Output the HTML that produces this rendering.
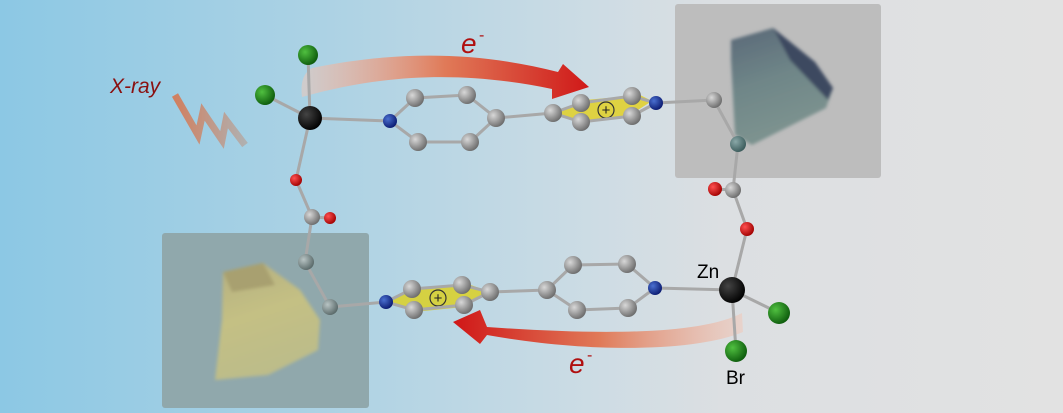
<!DOCTYPE html>
<html><head><meta charset="utf-8"><style>html,body{margin:0;padding:0;}svg{display:block}</style></head>
<body>
<svg width="1063" height="413" viewBox="0 0 1063 413" xmlns="http://www.w3.org/2000/svg">
<defs>
<linearGradient id="bg" x1="0" x2="1" y1="0" y2="0">
<stop offset="0" stop-color="#8cc8e4"/><stop offset="0.33" stop-color="#afd3e4"/>
<stop offset="0.56" stop-color="#cddce4"/><stop offset="0.68" stop-color="#dcdfe2"/><stop offset="1" stop-color="#e2e2e2"/>
</linearGradient>
<linearGradient id="a1" x1="300" x2="590" y1="0" y2="0" gradientUnits="userSpaceOnUse">
<stop offset="0" stop-color="#f2c8b8" stop-opacity="0.5"/><stop offset="0.5" stop-color="#e07a58"/><stop offset="1" stop-color="#d01818"/>
</linearGradient>
<linearGradient id="a2" x1="745" x2="455" y1="0" y2="0" gradientUnits="userSpaceOnUse">
<stop offset="0" stop-color="#f2c8b8" stop-opacity="0.5"/><stop offset="0.5" stop-color="#e07a58"/><stop offset="1" stop-color="#d01818"/>
</linearGradient>
<linearGradient id="zz" x1="0" x2="1"><stop offset="0" stop-color="#d08060"/><stop offset="1" stop-color="#b0b0b0"/></linearGradient>
<linearGradient id="tc" x1="0" y1="0" x2="0.3" y2="1"><stop offset="0" stop-color="#5a6878"/><stop offset="0.5" stop-color="#6f8688"/><stop offset="1" stop-color="#7e9490"/></linearGradient>
<linearGradient id="bc" x1="0" y1="0" x2="0.3" y2="1"><stop offset="0" stop-color="#b4ae80"/><stop offset="0.5" stop-color="#c4c084"/><stop offset="1" stop-color="#bcbc8a"/></linearGradient>
<filter id="bl" x="-20%" y="-20%" width="140%" height="140%"><feGaussianBlur stdDeviation="1.5"/></filter>
<radialGradient id="gC" cx="0.35" cy="0.35" r="0.7"><stop offset="0" stop-color="#d8d8d8"/><stop offset="1" stop-color="#6a6a6a"/></radialGradient>
<radialGradient id="gN" cx="0.35" cy="0.35" r="0.7"><stop offset="0" stop-color="#4a70d0"/><stop offset="1" stop-color="#0a1a70"/></radialGradient>
<radialGradient id="gO" cx="0.35" cy="0.35" r="0.7"><stop offset="0" stop-color="#ff5050"/><stop offset="1" stop-color="#a00000"/></radialGradient>
<radialGradient id="gG" cx="0.35" cy="0.35" r="0.7"><stop offset="0" stop-color="#50c040"/><stop offset="1" stop-color="#0c5a0c"/></radialGradient>
<radialGradient id="gZ" cx="0.35" cy="0.35" r="0.7"><stop offset="0" stop-color="#444"/><stop offset="1" stop-color="#000"/></radialGradient>
<radialGradient id="gT" cx="0.35" cy="0.35" r="0.7"><stop offset="0" stop-color="#8aa8a8"/><stop offset="1" stop-color="#3a5a5a"/></radialGradient>
<radialGradient id="gB" cx="0.35" cy="0.35" r="0.7"><stop offset="0" stop-color="#b8c4c4"/><stop offset="1" stop-color="#586868"/></radialGradient>
</defs>
<rect width="1063" height="413" fill="url(#bg)"/>
<!-- photos -->
<rect x="675" y="4" width="206" height="174" rx="3" fill="#bdbdbd"/>
<g filter="url(#bl)">
<polygon points="731,40 773,28 815,62 833,88 826,108 752,145 735,135 731,60" fill="url(#tc)"/>
<polygon points="773,28 815,62 833,88 828,100 790,60" fill="#3c4a60"/>
</g>
<rect x="162" y="233" width="207" height="175" rx="3" fill="#90a8ac"/>
<g filter="url(#bl)">
<polygon points="223,272 263,263 300,290 320,320 318,350 268,375 215,380 222,320" fill="url(#bc)"/>
<polygon points="223,272 263,263 275,285 232,292" fill="#a8a070"/>
</g>
<!-- X-ray -->
<text x="110" y="93" font-family="Liberation Sans, sans-serif" font-style="italic" font-size="21" fill="#8a1010">X-ray</text>
<polyline points="175,95 198,135 203,112 222,140 226,120 245,145" fill="none" stroke="url(#zz)" stroke-width="7"/>
<!-- arrows -->
<path d="M302,97 C300,80 305,72 312,68 C400,50 480,52 558,72 L563,64 L589,87 L552,99 L552,89 C470,72 390,72 302,97 Z" fill="url(#a1)"/>
<path d="M742,313 C700,335 600,335 487,327 L480,310 L453,322 L480,344 L487,335 C600,355 700,350 743,332 Z" fill="url(#a2)"/>
<text x="461" y="53" font-family="Liberation Sans, sans-serif" font-style="italic" font-size="28" fill="#b01010">e</text>
<text x="479" y="40" font-family="Liberation Sans, sans-serif" font-size="16" fill="#b01010">-</text>
<text x="569" y="373" font-family="Liberation Sans, sans-serif" font-style="italic" font-size="28" fill="#b01010">e</text>
<text x="587" y="360" font-family="Liberation Sans, sans-serif" font-size="16" fill="#b01010">-</text>
<!-- yellow rings -->
<polygon points="558,113 585,100 640,95 652,101 630,115 580,124" fill="#e0d030" opacity="0.9"/>
<polygon points="390,302 412,289 465,283 488,291 464,307 414,312" fill="#d8d030" opacity="0.9"/>
<circle cx="606" cy="110" r="8" fill="none" stroke="#333" stroke-width="1.2"/>
<text x="606" y="115" text-anchor="middle" font-family="Liberation Sans, sans-serif" font-size="15" fill="#222">+</text>
<circle cx="438" cy="298" r="8" fill="none" stroke="#333" stroke-width="1.2"/>
<text x="438" y="303" text-anchor="middle" font-family="Liberation Sans, sans-serif" font-size="15" fill="#222">+</text>
<!-- bonds -->
<g stroke="#a8a8a8" stroke-width="3" fill="none">
<line x1="310" y1="118" x2="308" y2="55"/><line x1="310" y1="118" x2="265" y2="95"/>
<line x1="310" y1="118" x2="390" y2="121"/><line x1="310" y1="118" x2="296" y2="180"/>
<polyline points="296,180 312,217 330,218"/><polyline points="312,217 305,262 330,307 386,302"/>
<polygon points="390,121 415,98 467,95 496,118 470,142 418,142"/>
<line x1="496" y1="118" x2="553" y2="113"/>
<polygon points="553,113 581,103 632,96 656,103 632,116 581,122"/>
<polyline points="656,103 714,100 738,144 733,190 715,189"/>
<polyline points="733,190 747,229 732,290"/>
<line x1="732" y1="290" x2="779" y2="313"/><line x1="732" y1="290" x2="736" y2="351"/>
<line x1="732" y1="290" x2="655" y2="288"/>
<polygon points="655,288 627,264 573,265 547,290 577,310 628,308"/>
<line x1="547" y1="290" x2="490" y2="292"/>
<polygon points="490,292 462,285 412,289 386,302 414,310 464,305"/>
</g>
<!-- atoms -->
<g>
<circle cx="308" cy="55" r="10" fill="url(#gG)"/><circle cx="265" cy="95" r="10" fill="url(#gG)"/>
<circle cx="310" cy="118" r="12" fill="url(#gZ)"/>
<circle cx="296" cy="180" r="6" fill="url(#gO)"/>
<circle cx="312" cy="217" r="8" fill="url(#gC)"/><circle cx="330" cy="218" r="6" fill="url(#gO)"/>
<circle cx="306" cy="262" r="8" fill="url(#gB)"/><circle cx="330" cy="307" r="8" fill="url(#gB)"/>
<circle cx="390" cy="121" r="7" fill="url(#gN)"/>
<circle cx="415" cy="98" r="9" fill="url(#gC)"/><circle cx="467" cy="95" r="9" fill="url(#gC)"/>
<circle cx="496" cy="118" r="9" fill="url(#gC)"/><circle cx="470" cy="142" r="9" fill="url(#gC)"/>
<circle cx="418" cy="142" r="9" fill="url(#gC)"/>
<circle cx="553" cy="113" r="9" fill="url(#gC)"/><circle cx="581" cy="103" r="9" fill="url(#gC)"/>
<circle cx="581" cy="122" r="9" fill="url(#gC)"/><circle cx="632" cy="96" r="9" fill="url(#gC)"/>
<circle cx="632" cy="116" r="9" fill="url(#gC)"/><circle cx="656" cy="103" r="7" fill="url(#gN)"/>
<circle cx="714" cy="100" r="8" fill="url(#gC)"/><circle cx="738" cy="144" r="8" fill="url(#gT)"/>
<circle cx="715" cy="189" r="7" fill="url(#gO)"/><circle cx="733" cy="190" r="8" fill="url(#gC)"/>
<circle cx="747" cy="229" r="7" fill="url(#gO)"/>
<circle cx="732" cy="290" r="13" fill="url(#gZ)"/>
<circle cx="779" cy="313" r="11" fill="url(#gG)"/><circle cx="736" cy="351" r="11" fill="url(#gG)"/>
<circle cx="655" cy="288" r="7" fill="url(#gN)"/>
<circle cx="627" cy="264" r="9" fill="url(#gC)"/><circle cx="573" cy="265" r="9" fill="url(#gC)"/>
<circle cx="547" cy="290" r="9" fill="url(#gC)"/><circle cx="577" cy="310" r="9" fill="url(#gC)"/>
<circle cx="628" cy="308" r="9" fill="url(#gC)"/>
<circle cx="490" cy="292" r="9" fill="url(#gC)"/><circle cx="462" cy="285" r="9" fill="url(#gC)"/>
<circle cx="464" cy="305" r="9" fill="url(#gC)"/><circle cx="412" cy="289" r="9" fill="url(#gC)"/>
<circle cx="414" cy="310" r="9" fill="url(#gC)"/><circle cx="386" cy="302" r="7" fill="url(#gN)"/>
</g>
<text x="697" y="278" font-family="Liberation Sans, sans-serif" font-size="19" fill="#000">Zn</text>
<text x="726" y="384" font-family="Liberation Sans, sans-serif" font-size="19" fill="#000">Br</text>
</svg>
</body></html>
